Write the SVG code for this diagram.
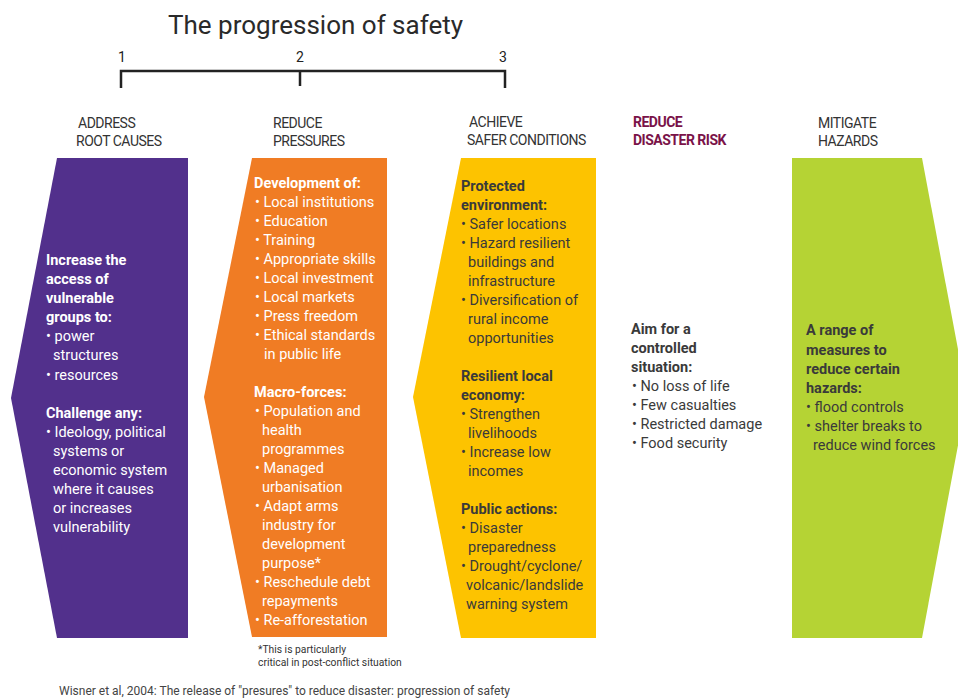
<svg xmlns="http://www.w3.org/2000/svg" width="958" height="700" viewBox="0 0 958 700">
<style>
text{font-family:Roboto,"Liberation Sans",sans-serif;}
.title{font-size:26px;fill:#2a2a2a;}
.num{font-size:14px;fill:#222;}
.hd{font-size:14px;fill:#333;letter-spacing:-0.5px;}
.hdr{font-size:14px;fill:#7a1248;font-weight:bold;letter-spacing:-0.5px;}
.w{font-size:14.5px;fill:#fff;}
.wb{font-size:14.5px;fill:#fff;font-weight:bold;}
.d{font-size:14.5px;fill:#3a3a3a;}
.db{font-size:14.5px;fill:#3a3a3a;font-weight:bold;}
.fn{font-size:10.3px;fill:#333;}
.cap{font-size:12px;fill:#444;}
.scale{stroke:#222;stroke-width:2.5;fill:none;}
</style>
<rect width="958" height="700" fill="#fff"/>
<g id="title">
<text class="title" x="168" y="34">The progression of safety</text>
<text class="num" x="118" y="62">1</text>
<text class="num" x="296" y="62">2</text>
<text class="num" x="499" y="62">3</text>
<path class="scale" d="M121,88 V71 H505 V88 M300,71 V86"/>
</g>
<g id="headers">
<text class="hd" x="78" y="128">ADDRESS</text>
<text class="hd" x="76" y="146">ROOT CAUSES</text>
<text class="hd" x="273" y="128">REDUCE</text>
<text class="hd" x="273" y="146">PRESSURES</text>
<text class="hd" x="469" y="127">ACHIEVE</text>
<text class="hd" x="467" y="145">SAFER CONDITIONS</text>
<text class="hdr" x="633" y="127">REDUCE</text>
<text class="hdr" x="633" y="145">DISASTER RISK</text>
<text class="hd" x="818" y="128">MITIGATE</text>
<text class="hd" x="818" y="146">HAZARDS</text>
</g>
<g id="root-causes">
<polygon points="57,158 188,158 188,638 57,638 11,398" fill="#52308c"/>
<text class="wb" x="46" y="265">Increase the</text>
<text class="wb" x="46" y="284">access of</text>
<text class="wb" x="46" y="303">vulnerable</text>
<text class="wb" x="46" y="322">groups to:</text>
<text class="w" x="46" y="341">• power</text>
<text class="w" x="53" y="360">structures</text>
<text class="w" x="46" y="380">• resources</text>
<text class="wb" x="46" y="418">Challenge any:</text>
<text class="w" x="46" y="437">• Ideology, political</text>
<text class="w" x="53" y="456">systems or</text>
<text class="w" x="53" y="475">economic system</text>
<text class="w" x="53" y="494">where it causes</text>
<text class="w" x="53" y="513">or increases</text>
<text class="w" x="53" y="532">vulnerability</text>
</g>
<g id="pressures">
<polygon points="252,158 387,158 387,637 252,637 204,397" fill="#f07c24"/>
<text class="wb" x="254" y="188">Development of:</text>
<text class="w" x="255" y="207">• Local institutions</text>
<text class="w" x="255" y="226">• Education</text>
<text class="w" x="255" y="245">• Training</text>
<text class="w" x="255" y="264">• Appropriate skills</text>
<text class="w" x="255" y="283">• Local investment</text>
<text class="w" x="255" y="302">• Local markets</text>
<text class="w" x="255" y="321">• Press freedom</text>
<text class="w" x="255" y="340">• Ethical standards</text>
<text class="w" x="264" y="359">in public life</text>
<text class="wb" x="254" y="397">Macro-forces:</text>
<text class="w" x="255" y="416">• Population and</text>
<text class="w" x="262" y="435">health</text>
<text class="w" x="262" y="454">programmes</text>
<text class="w" x="255" y="473">• Managed</text>
<text class="w" x="262" y="492">urbanisation</text>
<text class="w" x="255" y="511">• Adapt arms</text>
<text class="w" x="262" y="530">industry for</text>
<text class="w" x="262" y="549">development</text>
<text class="w" x="262" y="568">purpose*</text>
<text class="w" x="255" y="587">• Reschedule debt</text>
<text class="w" x="262" y="606">repayments</text>
<text class="w" x="255" y="625">• Re-afforestation</text>
</g>
<g id="safer-conditions">
<polygon points="461,158 596,158 596,638 461,638 413,397" fill="#fdc300"/>
<text class="db" x="461" y="191">Protected</text>
<text class="db" x="461" y="210">environment:</text>
<text class="d" x="461" y="229">• Safer locations</text>
<text class="d" x="461" y="248">• Hazard resilient</text>
<text class="d" x="468" y="267">buildings and</text>
<text class="d" x="468" y="286">infrastructure</text>
<text class="d" x="461" y="305">• Diversification of</text>
<text class="d" x="468" y="324">rural income</text>
<text class="d" x="468" y="343">opportunities</text>
<text class="db" x="461" y="381">Resilient local</text>
<text class="db" x="461" y="400">economy:</text>
<text class="d" x="461" y="419">• Strengthen</text>
<text class="d" x="468" y="438">livelihoods</text>
<text class="d" x="461" y="457">• Increase low</text>
<text class="d" x="468" y="476">incomes</text>
<text class="db" x="461" y="514">Public actions:</text>
<text class="d" x="461" y="533">• Disaster</text>
<text class="d" x="468" y="552">preparedness</text>
<text class="d" x="461" y="571">• Drought/cyclone/</text>
<text class="d" x="466" y="590">volcanic/landslide</text>
<text class="d" x="466" y="609">warning system</text>
</g>
<g id="disaster-risk">
<text class="db" x="631" y="334">Aim for a</text>
<text class="db" x="631" y="353">controlled</text>
<text class="db" x="631" y="372">situation:</text>
<text class="d" x="632" y="391">• No loss of life</text>
<text class="d" x="632" y="410">• Few casualties</text>
<text class="d" x="632" y="429">• Restricted damage</text>
<text class="d" x="632" y="448">• Food security</text>
</g>
<g id="mitigate-hazards">
<polygon points="792,158 922,158 967,397 922,638 792,638" fill="#b5d334"/>
<text class="db" x="806" y="335">A range of</text>
<text class="db" x="806" y="355">measures to</text>
<text class="db" x="806" y="374">reduce certain</text>
<text class="db" x="806" y="393">hazards:</text>
<text class="d" x="806" y="412">• flood controls</text>
<text class="d" x="806" y="431">• shelter breaks to</text>
<text class="d" x="813" y="450">reduce wind forces</text>
</g>
<g id="connectors"></g>
<g id="notes">
<text class="fn" x="258" y="653">*This is particularly</text>
<text class="fn" x="258" y="666">critical in post-conflict situation</text>
<text class="cap" x="59" y="695">Wisner et al, 2004: The release of "presures" to reduce disaster: progression of safety</text>
</g>
</svg>
